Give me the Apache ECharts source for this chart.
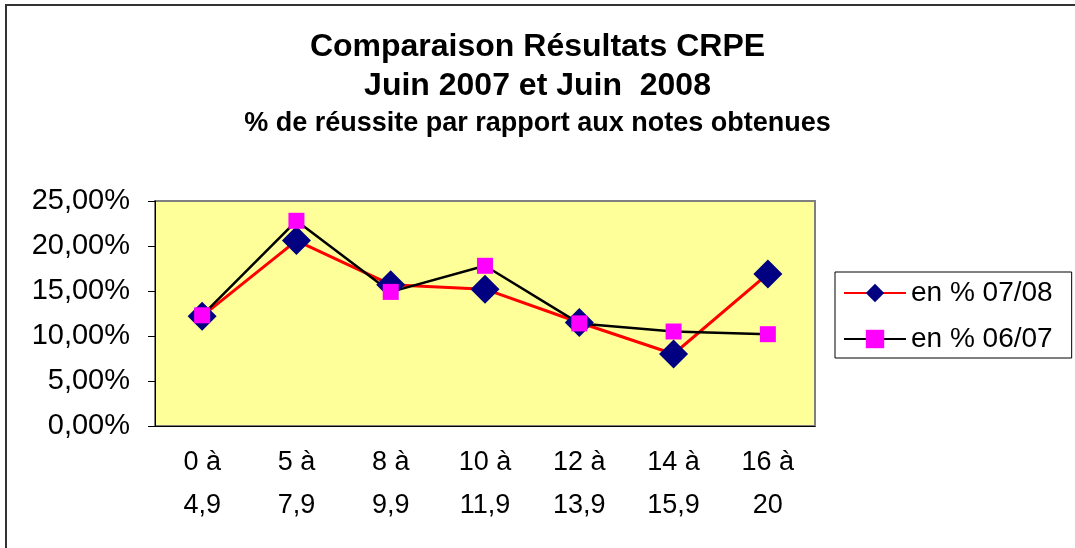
<!DOCTYPE html>
<html>
<head>
<meta charset="utf-8">
<script src="https://cdn.jsdelivr.net/npm/echarts@6/dist/echarts.min.js"></script>
<style>
  html, body { margin: 0; padding: 0; background: #fff; }
  #chart { width: 1075px; height: 548px; }
</style>
</head>
<body>
<div id="chart"></div>
<script>
// categories: note ranges (from / to)
const rangeFrom = ['0', '5', '8', '10', '12', '14', '16'];
const rangeTo = ['4,9', '7,9', '9,9', '11,9', '13,9', '15,9', '20'];
const categories = rangeFrom.map((f, i) => f + ' à\n' + rangeTo[i]);

// % de réussite
const pct0708 = [12.2, 20.6, 15.7, 15.2, 11.5, 8.0, 16.9];
const pct0607 = [12.3, 22.8, 14.9, 17.8, 11.4, 10.5, 10.2];

const seriesNames = ['en % 07/08', 'en % 06/07'];
const titleLines = ['Comparaison Résultats CRPE', 'Juin 2007 et Juin  2008'];
const subTitle = '% de réussite par rapport aux notes obtenues';

const FONT = '"Liberation Sans", Arial, sans-serif';

const chart = echarts.init(document.getElementById('chart'), null, { renderer: 'canvas' });

const fmtPct = (v) => v.toFixed(2).replace('.', ',') + '%';

const option = {
  animation: false,
  backgroundColor: '#ffffff',
  textStyle: { fontFamily: FONT, color: '#000' },
  title: {
    text: titleLines.join('\n'),
    subtext: subTitle,
    left: 'center',
    top: 23,
    itemGap: 4,
    textStyle: { fontFamily: FONT, fontSize: 32, fontWeight: 'bold', lineHeight: 39, color: '#000' },
    subtextStyle: { fontFamily: FONT, fontSize: 27, fontWeight: 'bold', color: '#000' },
  },
  graphic: [
    {
      type: 'rect',
      shape: { x: 6, y: 5, width: 1200, height: 700 },
      style: { fill: 'none', stroke: '#333', lineWidth: 2 },
      silent: true,
    },
  ],
  legend: {
    orient: 'vertical',
    left: 835,
    top: 272,
    itemWidth: 62,
    itemHeight: 23,
    itemGap: 18,
    padding: [7, 19, 5, 8],
    borderColor: '#000',
    borderWidth: 1,
    textStyle: { fontFamily: FONT, fontSize: 28, color: '#000' },
    data: seriesNames,
  },
  grid: {
    left: 155,
    right: 260,
    top: 201,
    bottom: 122,
    show: true,
    backgroundColor: '#FFFF99',
    borderColor: '#808080',
    borderWidth: 2,
  },
  xAxis: {
    type: 'category',
    data: categories,
    boundaryGap: true,
    axisLine: { lineStyle: { color: '#000', width: 1 } },
    axisTick: { length: 8, lineStyle: { color: '#000' } },
    axisLabel: { fontFamily: FONT, fontSize: 27, lineHeight: 43, color: '#000', margin: 15, interval: 0 },
    splitLine: { show: false },
  },
  yAxis: {
    type: 'value',
    min: 0,
    max: 25,
    interval: 5,
    axisLine: { show: true, lineStyle: { color: '#000', width: 1 } },
    axisTick: { show: true, length: 7, lineStyle: { color: '#000' } },
    axisLabel: { fontFamily: FONT, fontSize: 29, color: '#000', margin: 25, formatter: fmtPct },
    splitLine: { show: false },
  },
  series: [
    {
      name: seriesNames[0],
      type: 'line',
      data: pct0708,
      symbol: 'diamond',
      symbolSize: 29,
      lineStyle: { color: '#FF0000', width: 3 },
      itemStyle: { color: '#000080', borderColor: '#000080', borderWidth: 0 },
    },
    {
      name: seriesNames[1],
      type: 'line',
      data: pct0607,
      symbol: 'rect',
      symbolSize: 16,
      lineStyle: { color: '#000000', width: 2.5 },
      itemStyle: { color: '#FF00FF', borderColor: '#FF00FF', borderWidth: 0 },
    },
  ],
};

chart.setOption(option);
</script>
</body>
</html>
